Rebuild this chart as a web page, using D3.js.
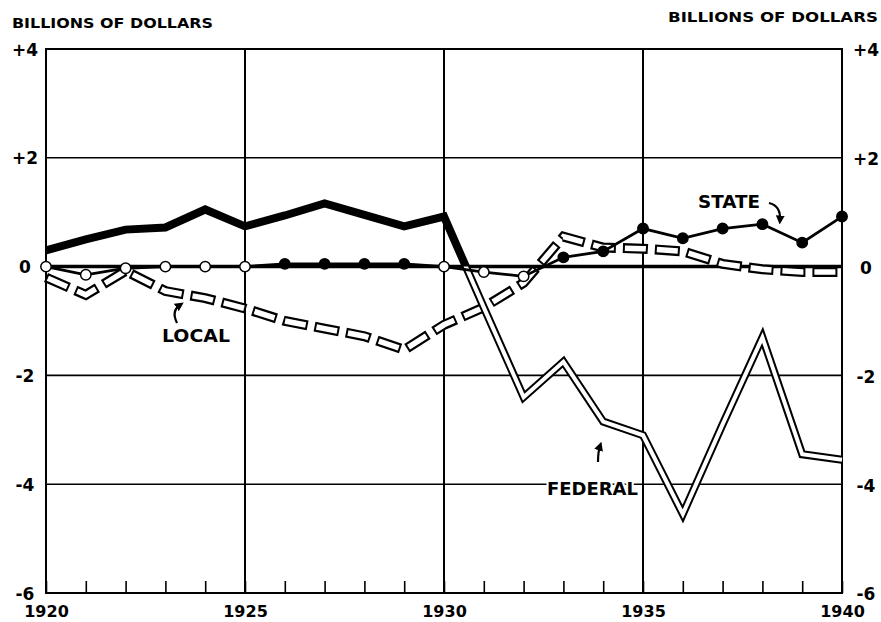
<!DOCTYPE html>
<html><head><meta charset="utf-8">
<script src="https://cdn.jsdelivr.net/npm/d3@7"></script>
<style>
html,body{margin:0;padding:0;background:#fff;}
svg{display:block;}
text{font-family:"DejaVu Sans",sans-serif;font-weight:bold;fill:#000;}
</style></head>
<body>
<svg id="chart" width="881" height="622"></svg>
<script>
const years = [1920,1921,1922,1923,1924,1925,1926,1927,1928,1929,1930,1931,1932,1933,1934,1935,1936,1937,1938,1939,1940];
const federal = [0.30,0.50,0.68,0.72,1.05,0.74,0.94,1.16,0.95,0.74,0.92,-0.75,-2.40,-1.75,-2.85,-3.10,-4.55,-2.90,-1.30,-3.45,-3.55];
const state   = [0.00,-0.15,-0.03,0.00,0.00,0.00,0.05,0.05,0.05,0.05,0.00,-0.10,-0.18,0.17,0.28,0.70,0.52,0.70,0.78,0.44,0.92];
const local   = [-0.20,-0.52,-0.08,-0.45,-0.58,-0.77,-1.00,-1.14,-1.28,-1.53,-1.07,-0.75,-0.30,0.55,0.35,0.33,0.28,0.05,-0.05,-0.10,-0.10];
const yTicks = [4,2,0,-2,-4,-6];
const yTickLabels = ["+4","+2","0","-2","-4","-6"];
const labeledYears = [1920,1925,1930,1935,1940];
const gridYears = [1925,1930,1935];
const gridValues = [2,-2,-4];
const unitTitle = "BILLIONS OF DOLLARS";

const svg = d3.select("#chart");
const x = d3.scaleLinear().domain([1920,1940]).range([46,842]);
const y = d3.scaleLinear().domain([-6,4]).range([593,49]);

// grid
svg.append("g").selectAll("line").data(gridYears).join("line")
  .attr("x1",d=>x(d)).attr("x2",d=>x(d)).attr("y1",y(4)).attr("y2",y(-6))
  .attr("stroke","#000").attr("stroke-width",2);
svg.append("g").selectAll("line").data(gridValues).join("line")
  .attr("x1",x(1920)).attr("x2",x(1940)).attr("y1",d=>y(d)).attr("y2",d=>y(d))
  .attr("stroke","#000").attr("stroke-width",1.6);

// bottom axis (inward year ticks)
const xAxis = d3.axisBottom(x).tickValues(years).tickSize(-12).tickSizeOuter(0)
  .tickFormat(d => labeledYears.includes(d) ? String(d) : "");
const gx = svg.append("g").attr("transform",`translate(0,${y(-6)})`).call(xAxis);
gx.select(".domain").remove();
gx.selectAll(".tick line").attr("stroke","#000").attr("stroke-width",1.6);
gx.selectAll(".tick text").attr("y",24).attr("dy",0).style("font-size","16px")
  .style("font-family","DejaVu Sans").style("font-weight","bold").attr("fill","#000");

// left and right axes
const fmt = d => yTickLabels[yTicks.indexOf(d)];
const gl = svg.append("g").attr("transform",`translate(${x(1920)},0)`)
  .call(d3.axisLeft(y).tickValues(yTicks).tickSize(0).tickFormat(fmt));
gl.select(".domain").remove();
gl.selectAll(".tick text").attr("x",-21).attr("text-anchor","middle").attr("dy","0.36em")
  .style("font-size","17px").style("font-family","DejaVu Sans").style("font-weight","bold").attr("fill","#000");
const gr = svg.append("g").attr("transform",`translate(${x(1940)},0)`)
  .call(d3.axisRight(y).tickValues(yTicks).tickSize(0).tickFormat(fmt));
gr.select(".domain").remove();
gr.selectAll(".tick text").attr("x",24).attr("text-anchor","middle").attr("dy","0.40em")
  .style("font-size","17px").style("font-family","DejaVu Sans").style("font-weight","bold").attr("fill","#000");

// frame
svg.append("rect").attr("x",x(1920)).attr("y",y(4)).attr("width",x(1940)-x(1920)).attr("height",y(-6)-y(4))
  .attr("fill","none").attr("stroke","#000").attr("stroke-width",2);

// zero line
svg.append("line").attr("x1",x(1920)).attr("x2",x(1940)).attr("y1",y(0)).attr("y2",y(0))
  .attr("stroke","#000").attr("stroke-width",3.5);

// titles
svg.append("text").attr("x",12).attr("y",28).attr("textLength",201).attr("lengthAdjust","spacingAndGlyphs")
  .style("font-size","14px").text(unitTitle);
svg.append("text").attr("x",668).attr("y",22).attr("textLength",210).attr("lengthAdjust","spacingAndGlyphs")
  .style("font-size","14px").text(unitTitle);

const line = (vals) => d3.line().x((d,i)=>x(years[i])).y(d=>y(d))(vals);

// clip regions for federal
const defs = svg.append("defs");
defs.append("clipPath").attr("id","below").append("rect")
  .attr("x",0).attr("y",y(0)).attr("width",881).attr("height",622);
defs.append("marker").attr("id","ah").attr("viewBox","0 0 10 10").attr("refX",5).attr("refY",5)
  .attr("markerWidth",9).attr("markerHeight",9).attr("markerUnits","userSpaceOnUse").attr("orient","auto")
  .append("path").attr("d","M0,0 L10,5 L0,10 z").attr("fill","#000");

// local: outlined dashes
svg.append("path").attr("d",line(local)).attr("fill","none").attr("stroke","#000")
  .attr("stroke-width",10).attr("stroke-dasharray","25 7").attr("stroke-linejoin","miter");
svg.append("path").attr("d",line(local)).attr("fill","none").attr("stroke","#fff")
  .attr("stroke-width",5.5).attr("stroke-dasharray","21 11").attr("stroke-dashoffset",-2).attr("stroke-linejoin","miter");

// federal: solid when positive, double line when negative
svg.append("path").attr("d",line(federal)).attr("fill","none").attr("stroke","#000")
  .attr("stroke-width",8).attr("stroke-linejoin","miter");
svg.append("path").attr("d",line(federal)).attr("fill","none").attr("stroke","#fff")
  .attr("stroke-width",4).attr("stroke-linejoin","miter").attr("clip-path","url(#below)");

// state
svg.append("path").attr("d",line(state)).attr("fill","none").attr("stroke","#000").attr("stroke-width",2.8);
svg.append("g").selectAll("circle").data(state).join("circle")
  .attr("cx",(d,i)=>x(years[i])).attr("cy",d=>y(d)).attr("r",5.2)
  .attr("fill",d=> d>0 ? "#000" : "#fff").attr("stroke","#000").attr("stroke-width",1.5);

// labels
const lab = (t,xx,yy,w) => svg.append("text").attr("x",xx).attr("y",yy).attr("textLength",w)
  .attr("lengthAdjust","spacingAndGlyphs").style("font-size","17px")
  .attr("stroke","#fff").attr("stroke-width",4).attr("paint-order","stroke").text(t);
lab("STATE",698,208,62);
lab("LOCAL",162,342,68);
lab("FEDERAL",547,495,91);

// arrows
const arrow = d => svg.append("path").attr("d",d).attr("fill","none").attr("stroke","#000")
  .attr("stroke-width",2.2).attr("marker-end","url(#ah)");
arrow("M769,203 Q781,206 780,220");
arrow("M177,323 Q171,311 180,305");
arrow("M598,462 Q598,452 600,446");
</script>
</body></html>
